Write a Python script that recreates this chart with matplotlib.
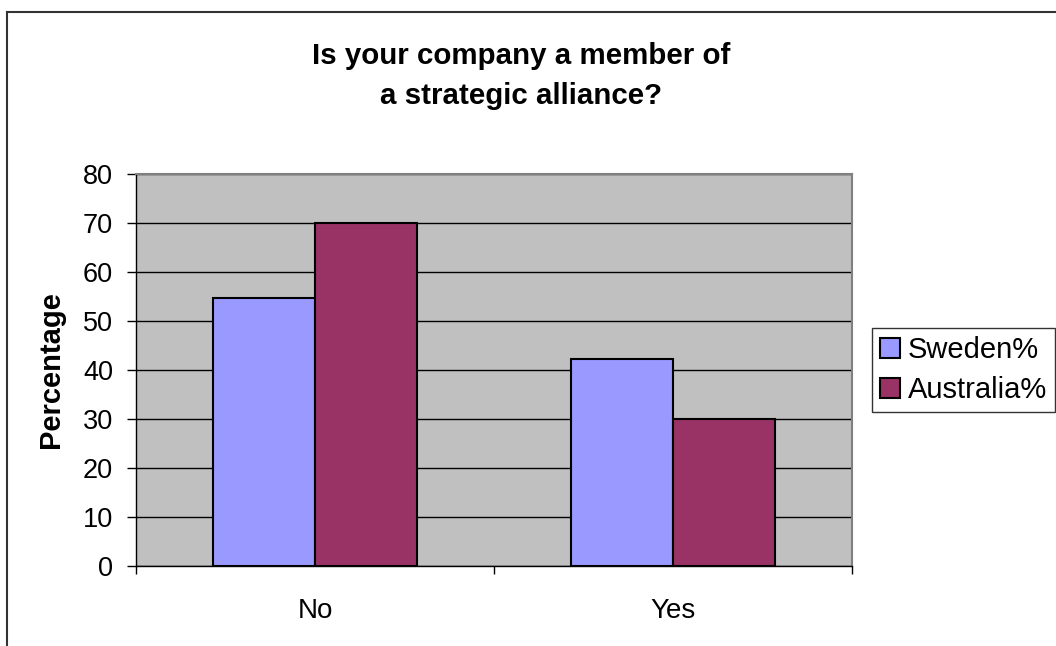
import matplotlib
matplotlib.use("Agg")
import matplotlib.pyplot as plt
from matplotlib.lines import Line2D
import numpy as np

plt.rcParams['font.family'] = ['Liberation Sans', 'DejaVu Sans']

categories = ["No", "Yes"]
series_names = ["Sweden%", "Australia%"]
sweden = [54.6, 42.2]
australia = [70.0, 30.0]
colors = ["#9999FF", "#993366"]
yticks = [0, 10, 20, 30, 40, 50, 60, 70, 80]
title_lines = ["Is your company a member of", "a strategic alliance?"]

W, H = 1056, 646
fig = plt.figure(figsize=(W / 100, H / 100), dpi=100)

# chart-area frame (only top and left edges fall inside the image)
fig.add_artist(Line2D([6.5 / W, 6.5 / W], [0, 1 - 12 / H], transform=fig.transFigure,
                      color="#333333", lw=1.5))
fig.add_artist(Line2D([6.5 / W, 1], [1 - 12 / H, 1 - 12 / H], transform=fig.transFigure,
                      color="#333333", lw=1.5))

left, right, top, bottom = 136, 852, 174, 566
ax = fig.add_axes([left / W, 1 - bottom / H, (right - left) / W, (bottom - top) / H])
ax.set_facecolor("#C0C0C0")

x = np.arange(len(categories))
bw = 0.285
ax.bar(x - bw / 2, sweden, bw, color=colors[0], edgecolor="black", linewidth=1.5,
       label=series_names[0], zorder=3)
ax.bar(x + bw / 2, australia, bw, color=colors[1], edgecolor="black", linewidth=1.5,
       label=series_names[1], zorder=3)

ax.set_xlim(-0.5, len(categories) - 0.5)
ax.set_ylim(0, 80)
ax.set_yticks(yticks)
ax.yaxis.grid(True, color="black", linewidth=1.0, zorder=1)
ax.set_axisbelow(True)

ax.set_xticks(x)
ax.set_xticklabels(categories, fontsize=20)
ax.set_xticks(np.arange(len(categories) + 1) - 0.5, minor=True)
ax.tick_params(axis="x", which="major", length=0, pad=23)
ax.tick_params(axis="x", which="minor", length=6, width=1, direction="out", color="black")
ax.tick_params(axis="y", length=6.5, width=1, direction="out", color="black", labelsize=19.5, pad=10)

for s in ["top", "right"]:
    ax.spines[s].set_color("#808080")
    ax.spines[s].set_linewidth(1.5)
for s in ["left", "bottom"]:
    ax.spines[s].set_color("black")
    ax.spines[s].set_linewidth(1.0)

ax.set_ylabel("Percentage", fontsize=21, fontweight="bold", labelpad=13)

fig.text(521 / W, 1 - 56 / H, title_lines[0], ha="center", va="center",
         fontsize=21.25, fontweight="bold")
fig.text(521 / W, 1 - 96 / H, title_lines[1], ha="center", va="center",
         fontsize=21.25, fontweight="bold")

leg = ax.legend(loc="center left", bbox_to_anchor=(872 / W, 1 - 370 / H),
                bbox_transform=fig.transFigure, fontsize=21, frameon=True,
                fancybox=False, edgecolor="black", handlelength=0.68, handleheight=0.68,
                handletextpad=0.27, borderpad=0.28, labelspacing=0.42, borderaxespad=0)
leg.get_frame().set_linewidth(1.0)

fig.savefig("out.png", dpi=100, facecolor="white")
